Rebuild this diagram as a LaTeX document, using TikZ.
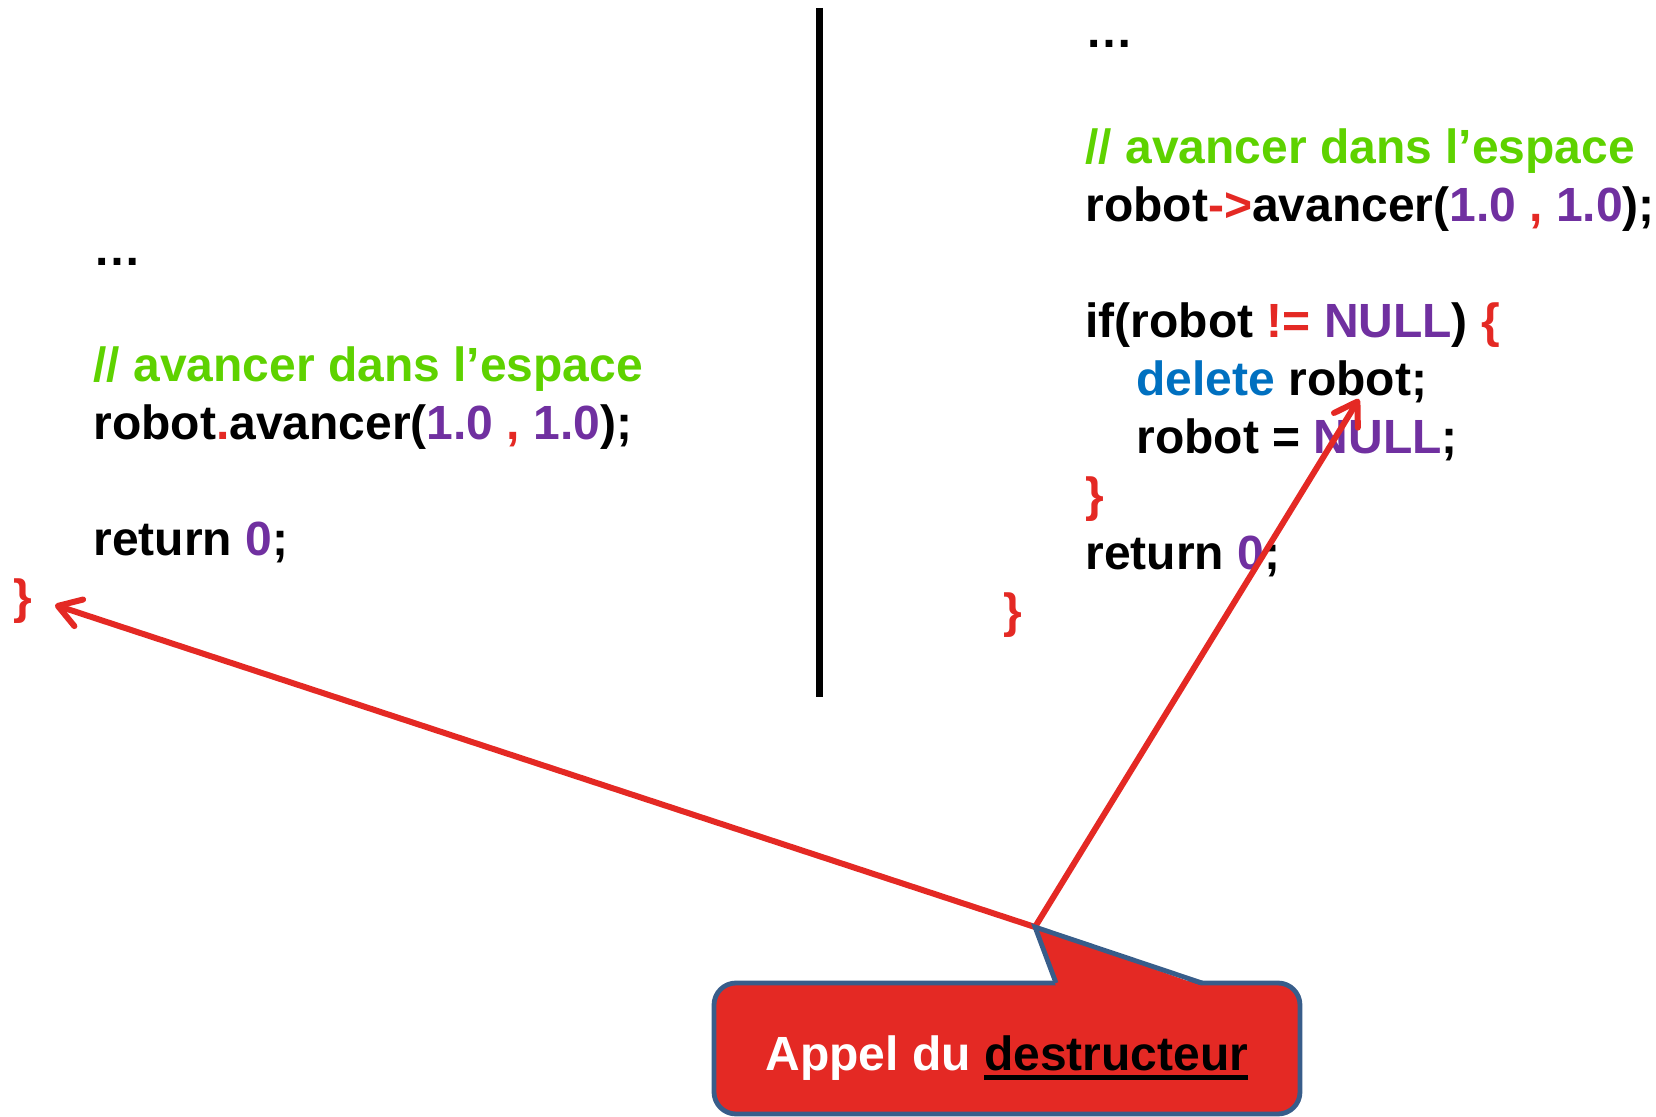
\documentclass[tikz,border=0pt]{standalone}
\usepackage{fontspec}
\setmainfont{Liberation Sans}
\usetikzlibrary{arrows.meta}

\definecolor{cred}{RGB}{228,41,36}
\definecolor{cgreen}{RGB}{94,210,0}
\definecolor{cpurple}{RGB}{112,48,160}
\definecolor{cblue}{RGB}{0,112,192}
\definecolor{cborder}{RGB}{56,93,138}

% thick underline for the callout keyword
\newcommand{\ulthick}[1]{\leavevmode\setbox0\hbox{#1}\rlap{\rule[-5pt]{\wd0}{2.6pt}}\box0}

\begin{document}
\begin{tikzpicture}[x=0.5pt,y=-0.5pt,
  code/.style={anchor=base west,inner sep=0pt,font=\fontsize{24}{28.8}\selectfont\bfseries},
  pointer/.style={draw=cred,line width=3pt,-{Straight Barb[length=11pt,width=14pt,line cap=round,line join=round]}},
  calloutbox/.style={draw=cborder,fill=cred,line width=2.4pt,rounded corners=11pt,
    minimum width=293pt,minimum height=65.5pt,inner sep=0pt},
  callouttext/.style={anchor=base,inner sep=0pt,font=\fontsize{24}{28.8}\selectfont\bfseries}]
\useasboundingbox (0,0) rectangle (1656,1117);

% separator between the two versions
\coordinate (sepTop) at (819.5,8);
\coordinate (sepBot) at (819.5,697);
\draw[line width=3.3pt] (sepTop) -- (sepBot);

% left: object on the stack
\node[code] (la)   at (93,266) {…};
\node[code] (lc)   at (93,382) {\color{cgreen}// avancer dans l’espace};
\node[code] (lr)   at (93,440) {robot\textcolor{cred}{.}avancer(\textcolor{cpurple}{1.0} \textcolor{cred}{,} \textcolor{cpurple}{1.0});};
\node[code] (lret) at (93,556) {return \textcolor{cpurple}{0};};
\node[code] (lend) at (13,614) {\textcolor{cred}{\}}};

% right: object on the heap
\node[code] (ra)    at (1085,48)  {…};
\node[code] (rc)    at (1085,164) {\color{cgreen}// avancer dans l’espace};
\node[code] (rr)    at (1085,222) {robot\textcolor{cred}{->}avancer(\textcolor{cpurple}{1.0} \textcolor{cred}{,} \textcolor{cpurple}{1.0});};
\node[code] (rif)   at (1085,338) {if(robot \textcolor{cred}{!=} \textcolor{cpurple}{NULL}) \textcolor{cred}{\{}};
\node[code] (rdel)  at (1136,396) {\textcolor{cblue}{delete} robot;};
\node[code] (rnull) at (1136,454) {robot = \textcolor{cpurple}{NULL};};
\node[code] (rcl)   at (1085,512) {\textcolor{cred}{\}}};
\node[code] (rret)  at (1085,570) {return \textcolor{cpurple}{0};};
\node[code] (rend)  at (1003,628) {\textcolor{cred}{\}}};

% arrows from the callout tip
\coordinate (tip) at (1035,927);
\coordinate (endL) at (55,605);
\coordinate (endR) at (1359,399);
\draw[pointer] (tip) -- (endL);
\draw[pointer] (tip) -- (endR);

% callout
\node[calloutbox] (box) at (1007,1048.5) {};
\fill[cred] (1056,986) -- (tip) -- (1202,986) -- cycle;
\draw[cborder,line width=2.4pt,line join=miter] (1056,983) -- (tip) -- (1202,983);
\node[callouttext] (msg) at (1007,1070) {\textcolor{white}{Appel du }\ulthick{destructeur}};
\end{tikzpicture}
\end{document}
